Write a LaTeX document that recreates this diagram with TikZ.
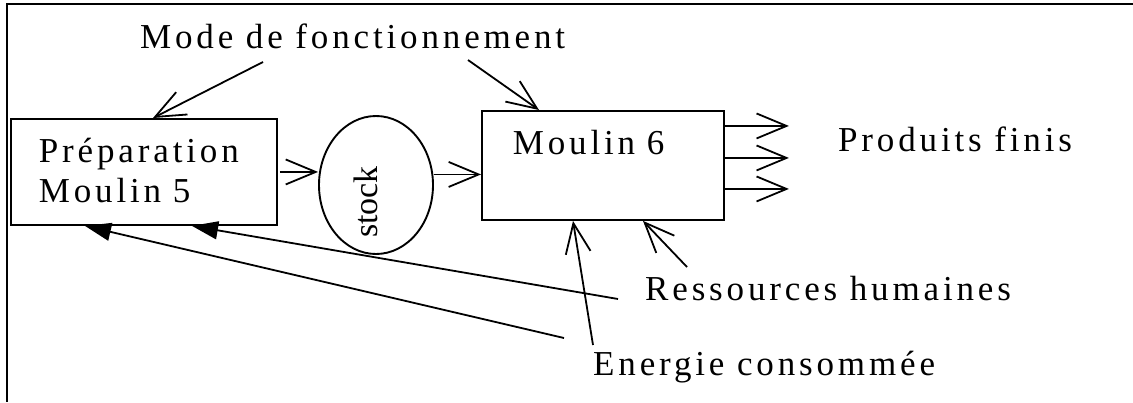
\documentclass[tikz,border=0pt]{standalone}
\usepackage{fontspec}
\setmainfont{Liberation Serif}
\usetikzlibrary{shapes.geometric, arrows.meta, positioning}

\begin{document}
\begin{tikzpicture}[
  x = 1pt, y = -1pt,
  spaced/.style    = {font=\fontsize{35}{40}\selectfont\addfontfeature{LetterSpace=11}},
  txt/.style       = {spaced, inner sep=0pt, anchor=base west},
  box/.style       = {rectangle, draw, line width=1.9pt, anchor=north west,
                      inner ysep=0pt, align=left, spaced},
  tank/.style      = {ellipse, draw, line width=1.9pt, minimum width=114pt,
                      minimum height=138pt, inner sep=0pt},
  openarrow/.style = {-{Straight Barb[length=30pt, width=25pt]}, line width=1.8pt},
  fillarrow/.style = {-{Triangle[length=26pt, width=18pt]}, line width=1.8pt}
]
\useasboundingbox (0,0) rectangle (1133,402);

% --- cadre ---
\draw[line width=1.9pt] (1133,4) -- (7,4) -- (7,402);

% --- boites ---
\node[box, inner xsep=28pt, text width=210pt, text height=44pt, text depth=62pt]
      (prep) at (10,118) {Préparation\\Moulin 5};
\node[tank] (stock) at (376,185) {};
\node[rotate=90, anchor=base, inner sep=0pt, font=\fontsize{34}{40}\selectfont]
      (stocktxt) at (377,202) {stock};
\node[box, inner xsep=31pt, text width=180pt, text height=44pt, text depth=65pt]
      (m6) at (481,110) {Moulin 6};

% --- textes ---
\node[txt] (mode)  at (140,48)  {Mode de fonctionnement};
\node[txt] (prod)  at (838,151) {Produits finis};
\node[txt] (ress)  at (645,300) {Ressources humaines};
\node[txt] (energ) at (593,375) {Energie consommée};

% --- extremites libres ---
\coordinate (mode1)  at (263,62);
\coordinate (mode2)  at (468,60);
\coordinate (ress1)  at (687,267);
\coordinate (ress2)  at (618,299);
\coordinate (energ1) at (593,345);
\coordinate (energ2) at (564,338);
\coordinate (m6in)   at ([yshift=-9pt]m6.west);

% --- fleches ---
\draw[openarrow] (mode1) -- ([xshift=143pt]prep.north west);
\draw[openarrow] (mode2) -- ([xshift=58pt]m6.north west);
\draw[openarrow] ([xshift=2pt]prep.east) -- (prep.east -| stock.west);
\draw[openarrow] (stock.east |- m6in) -- (m6in);

% sorties -> produits finis
\foreach \i/\dy in {1/39.5, 2/7.5, 3/-23.5} {
  \coordinate (out\i) at ([xshift=64pt, yshift=\dy pt]m6.east);
  \draw[openarrow] ([yshift=\dy pt]m6.east) -- (out\i);
}

% ressources et energie
\draw[openarrow] (energ1) -- ([xshift=92pt]m6.south west);
\draw[openarrow] (ress1)  -- ([xshift=162pt]m6.south west);
\draw[fillarrow] (ress2)  -- ([xshift=182pt]prep.south west);
\draw[fillarrow] (energ2) -- ([xshift=75pt]prep.south west);

\end{tikzpicture}
\end{document}
